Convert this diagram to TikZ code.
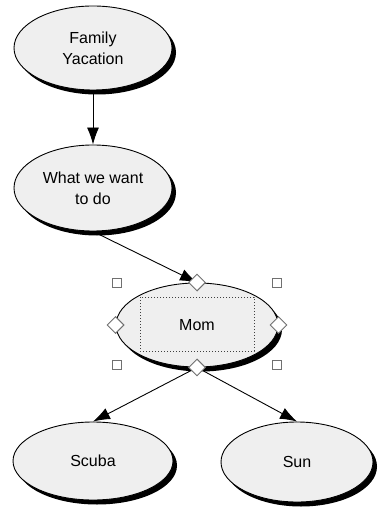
\documentclass[tikz,border=0pt]{standalone}
\usepackage{fontspec}
\setmainfont{Liberation Sans}
\usetikzlibrary{shapes.geometric,shadows,arrows.meta}
\definecolor{nodefill}{HTML}{EFEFEF}
\definecolor{handlegray}{HTML}{707070}
\tikzset{
  topic/.style={ellipse, draw=black, line width=0.9pt, fill=nodefill, inner sep=0pt,
    align=center, font=\fontsize{16}{21}\selectfont,
    drop shadow={shadow xshift=4pt, shadow yshift=-4.5pt, fill=black, opacity=1}},
  link/.style={line width=0.9pt, -{Latex[length=17pt,width=12pt]}},
  handlesq/.style={rectangle, draw=handlegray, fill=white, line width=0.9pt, minimum size=9pt, inner sep=0pt},
  handledia/.style={diamond, draw=handlegray, fill=white, line width=0.9pt, minimum size=17pt, inner sep=0pt},
  selbox/.style={draw=black!75, dotted, line width=1pt}
}
\begin{document}
\begin{tikzpicture}[x=1pt, y=-1pt]
\useasboundingbox (0,0) rectangle (381,510);
\node[topic, minimum width=158pt, minimum height=84pt] (fv) at (93,48) {Family\\Yacation};
\node[topic, minimum width=158pt, minimum height=86pt] (ww) at (93,188) {What we want\\to do};
\node[topic, minimum width=162pt, minimum height=84pt] (mom) at (197,325) {Mom};
\node[topic, minimum width=160pt, minimum height=78pt] (scuba) at (93,461) {Scuba};
\node[topic, minimum width=152pt, minimum height=80pt] (sun) at (297,462) {Sun};
\draw[selbox] (140,297) rectangle (254,351);
\draw[link] (fv) -- (ww);
\draw[link] (ww.south) -- (mom.north);
\draw[link] (mom.south) -- (scuba.north);
\draw[link] (mom.south) -- (sun.north);
\node[handledia] (hn) at (mom.north) {};
\node[handledia] (hs) at (mom.south) {};
\node[handledia] (hw) at (mom.west) {};
\node[handledia] (he) at (mom.east) {};
\node[handlesq] (s1) at (117,283) {};
\node[handlesq] (s2) at (277,283) {};
\node[handlesq] (s3) at (117,365) {};
\node[handlesq] (s4) at (277,365) {};
\end{tikzpicture}
\end{document}
